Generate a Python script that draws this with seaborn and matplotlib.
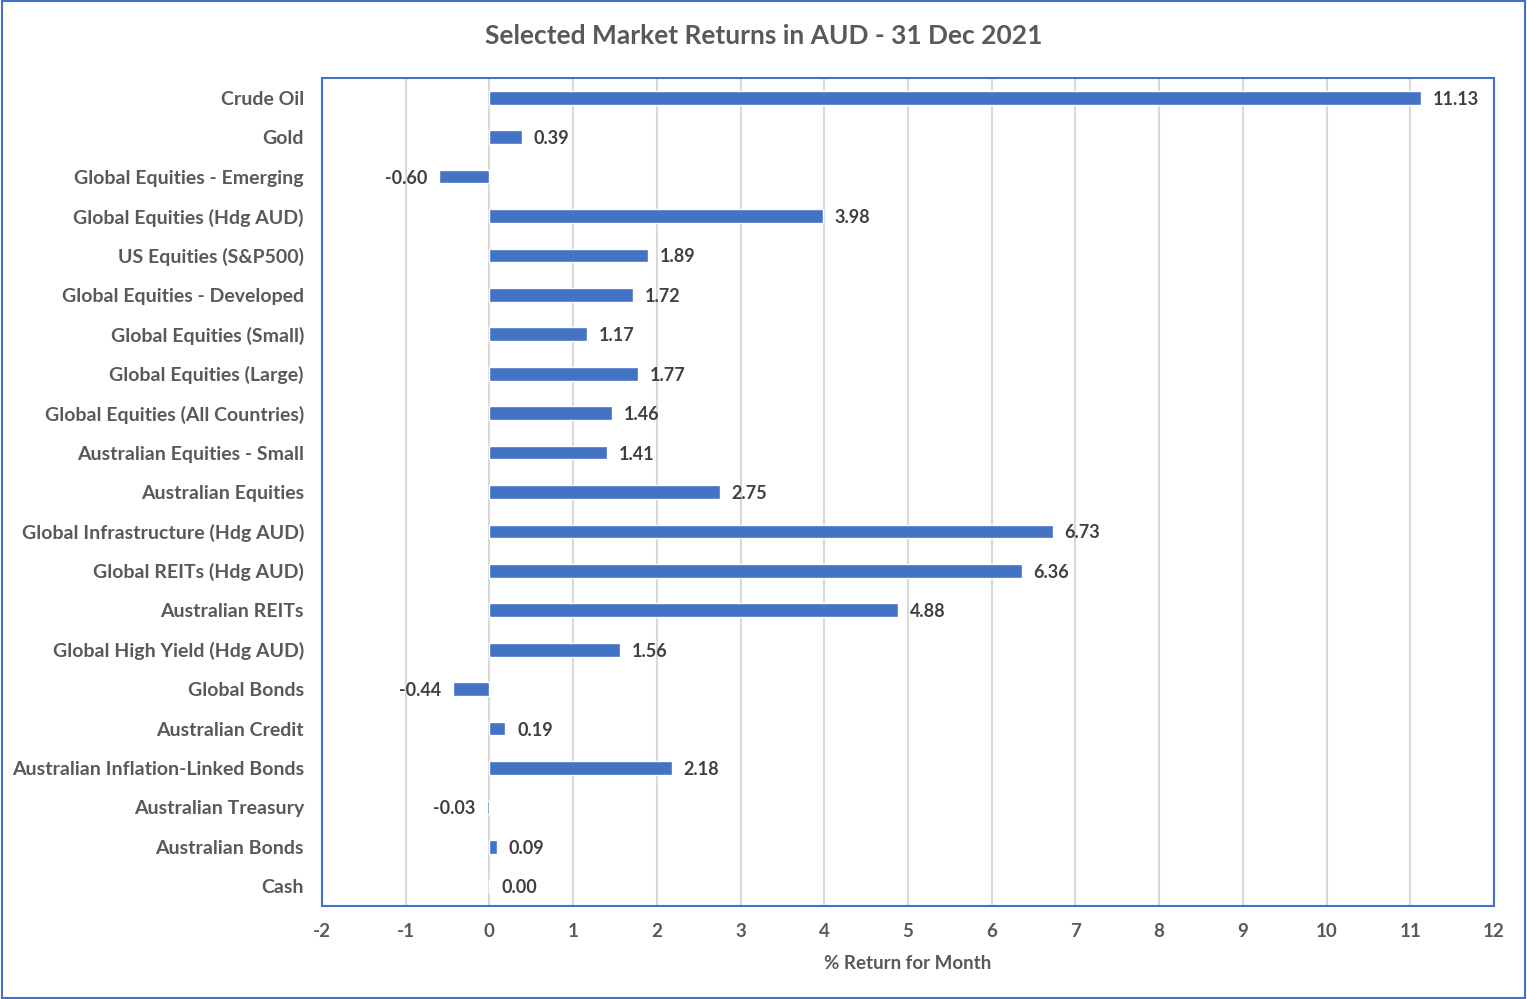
import matplotlib
matplotlib.use("Agg")
import matplotlib.pyplot as plt
import seaborn as sns
import pandas as pd
from matplotlib.patches import Rectangle

categories = [
    "Crude Oil", "Gold", "Global Equities - Emerging", "Global Equities (Hdg AUD)",
    "US Equities (S&P500)", "Global Equities - Developed", "Global Equities (Small)",
    "Global Equities (Large)", "Global Equities (All Countries)", "Australian Equities - Small",
    "Australian Equities", "Global Infrastructure (Hdg AUD)", "Global REITs (Hdg AUD)",
    "Australian REITs", "Global High Yield (Hdg AUD)", "Global Bonds", "Australian Credit",
    "Australian Inflation-Linked Bonds", "Australian Treasury", "Australian Bonds", "Cash",
]
returns = [11.13, 0.39, -0.60, 3.98, 1.89, 1.72, 1.17, 1.77, 1.46, 1.41,
           2.75, 6.73, 6.36, 4.88, 1.56, -0.44, 0.19, 2.18, -0.03, 0.09, 0.00]
x_ticks = list(range(-2, 13))

blue = "#4472C4"
grey = "#595959"
dark = "#404040"

df = pd.DataFrame({"category": categories, "ret": returns})

sns.set_theme(style="white")
plt.rcParams["font.family"] = ["Lato", "DejaVu Sans"]

fig = plt.figure(figsize=(15.27, 9.99), dpi=100)
ax = fig.add_axes([322 / 1527, 1 - 906 / 999, (1494 - 322) / 1527, (906 - 78) / 999])

sns.barplot(data=df, x="ret", y="category", orient="h", color=blue,
            saturation=1, width=0.35, ax=ax, zorder=3)

ax.set_xlim(-2, 12)
ax.set_xticks(x_ticks)
ax.set_xticklabels([str(t) for t in x_ticks])
ax.xaxis.grid(True, color="#D9D9D9", linewidth=1.5, zorder=0)
ax.yaxis.grid(False)
ax.tick_params(axis="x", length=0, labelsize=13.5, labelcolor=grey, pad=12)
ax.tick_params(axis="y", length=0, labelsize=14, labelcolor=grey, pad=13)
for lab in ax.get_xticklabels() + ax.get_yticklabels():
    lab.set_fontweight("bold")
for sp in ax.spines.values():
    sp.set_color(blue)
    sp.set_linewidth(1.5)

ax.set_ylabel("")
ax.set_xlabel("% Return for Month", fontsize=13.5, fontweight="bold", color=grey, labelpad=11)

for i, v in enumerate(returns):
    if v < 0:
        ax.text(v - 0.14, i, f"{v:.2f}", ha="right", va="center_baseline", fontsize=13,
                fontweight="bold", color=dark)
    else:
        ax.text(v + 0.14, i, f"{v:.2f}", ha="left", va="center_baseline", fontsize=13,
                fontweight="bold", color=dark)

fig.text(0.5, 1 - 36 / 999, "Selected Market Returns in AUD - 31 Dec 2021", ha="center",
         va="center", fontsize=19, fontweight="bold", color=grey)

fig.patches.append(Rectangle((0.001, 0.001), 0.998, 0.998, transform=fig.transFigure,
                             fill=False, edgecolor=blue, linewidth=1.5))

fig.savefig("out.png", dpi=100)
